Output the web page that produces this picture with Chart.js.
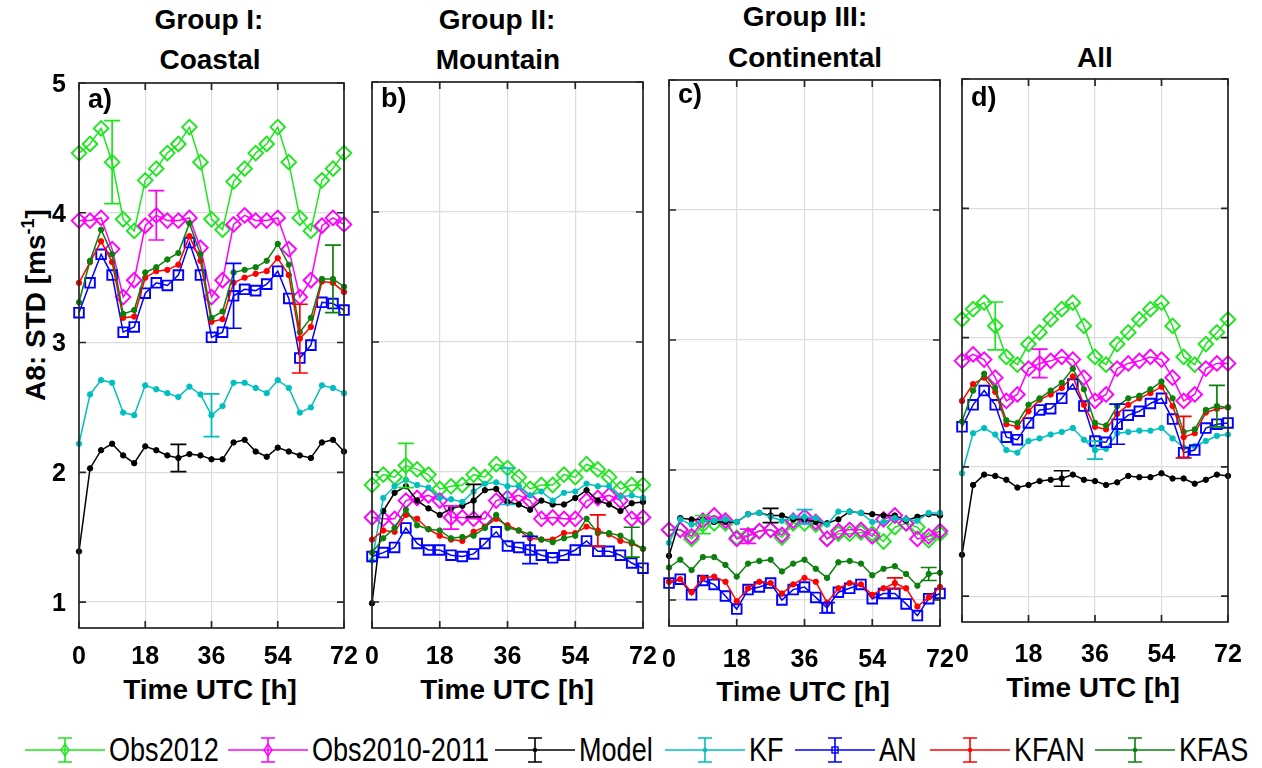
<!DOCTYPE html>
<html>
<head>
<meta charset="utf-8">
<title>A8: STD</title>
<script src="https://cdn.jsdelivr.net/npm/chart.js@4.4.1/dist/chart.umd.min.js"></script>
<style>
  body { margin: 0; background: #fff; }
  #fig { position: relative; width: 1262px; height: 768px; overflow: hidden; font-family: "Liberation Sans", Arial, sans-serif; color: #000; }
  #fig canvas { position: absolute; }
  .lbl { position: absolute; transform: translate(-50%, -50%); white-space: nowrap; font-weight: bold; font-size: 28px; }
  .ylab { position: absolute; left: 35px; top: 305px; transform: translate(-50%, -50%) rotate(-90deg); white-space: nowrap; font-weight: bold; font-size: 28px; }
  .ylab sup { font-size: 18px; }
  .leg { position: absolute; top: 735px; height: 30px; display: flex; align-items: center; white-space: nowrap; }
  .leg svg { margin-right: 3px; flex: none; }
  .leg span { display: inline-block; font-size: 33px; line-height: 30px; transform: scaleX(0.82); transform-origin: left center; }
</style>
</head>
<body>
<div id="fig">
  <div class="lbl" style="left:209px;top:20px">Group I:</div>
  <div class="lbl" style="left:210px;top:60px">Coastal</div>
  <div class="lbl" style="left:497px;top:20px">Group II:</div>
  <div class="lbl" style="left:498px;top:60px">Mountain</div>
  <div class="lbl" style="left:805px;top:17px">Group III:</div>
  <div class="lbl" style="left:805px;top:58px">Continental</div>
  <div class="lbl" style="left:1095px;top:58px">All</div>

  <div class="lbl" style="left:210px;top:690px">Time UTC [h]</div>
  <div class="lbl" style="left:507px;top:690px">Time UTC [h]</div>
  <div class="lbl" style="left:803px;top:692px">Time UTC [h]</div>
  <div class="lbl" style="left:1093px;top:688px">Time UTC [h]</div>

  <div class="ylab">A8: STD [ms<sup>-1</sup>]</div>
</div>

<script>
// forecast lead time, every 3 hours
const hours = [0, 3, 6, 9, 12, 15, 18, 21, 24, 27, 30, 33, 36, 39, 42, 45, 48, 51, 54, 57, 60, 63, 66, 69, 72];
const xTicks = [0, 18, 36, 54, 72];
const yTicks = [1, 2, 3, 4, 5];
const seriesNames = ['Obs2012', 'Obs2010-2011', 'Model', 'KF', 'AN', 'KFAN', 'KFAS'];

// hour at which each series shows its error bar
const errHours = [9, 21, 27, 36, 42, 60, 69];

// Group I: Coastal
const obs2012A = [4.46, 4.53, 4.65, 4.39, 3.95, 3.86, 4.25, 4.34, 4.46, 4.53, 4.66, 4.39, 3.95, 3.87, 4.24, 4.34, 4.46, 4.53, 4.66, 4.39, 3.96, 3.86, 4.25, 4.34, 4.46];
const obs1011A = [3.94, 3.94, 3.96, 3.72, 3.35, 3.48, 3.90, 3.98, 3.94, 3.94, 3.96, 3.73, 3.35, 3.48, 3.91, 3.98, 3.94, 3.94, 3.96, 3.72, 3.35, 3.48, 3.90, 3.96, 3.91];
const modelA = [1.39, 2.03, 2.17, 2.22, 2.13, 2.07, 2.20, 2.17, 2.13, 2.11, 2.14, 2.13, 2.10, 2.10, 2.23, 2.25, 2.16, 2.12, 2.19, 2.16, 2.13, 2.11, 2.23, 2.25, 2.16];
const kfA = [2.22, 2.60, 2.71, 2.69, 2.46, 2.44, 2.67, 2.64, 2.61, 2.58, 2.66, 2.60, 2.44, 2.51, 2.69, 2.69, 2.65, 2.61, 2.71, 2.65, 2.46, 2.50, 2.67, 2.65, 2.61];
const anA = [3.23, 3.46, 3.68, 3.52, 3.08, 3.12, 3.38, 3.46, 3.44, 3.52, 3.77, 3.52, 3.04, 3.08, 3.36, 3.41, 3.40, 3.45, 3.55, 3.34, 2.88, 2.98, 3.31, 3.30, 3.25];
const kfanA = [3.46, 3.62, 3.78, 3.62, 3.19, 3.20, 3.50, 3.55, 3.56, 3.60, 3.82, 3.63, 3.16, 3.18, 3.46, 3.50, 3.53, 3.55, 3.65, 3.52, 3.03, 3.12, 3.47, 3.46, 3.39];
const kfasA = [3.31, 3.63, 3.87, 3.68, 3.22, 3.25, 3.54, 3.58, 3.64, 3.69, 3.92, 3.68, 3.19, 3.24, 3.54, 3.56, 3.58, 3.63, 3.76, 3.60, 3.08, 3.19, 3.49, 3.49, 3.43];
const errA = [0.32, 0.19, 0.105, 0.165, 0.25, 0.265, 0.26];

// Group II: Mountain
const obs2012B = [1.90, 1.98, 1.96, 2.05, 2.02, 1.98, 1.87, 1.89, 1.90, 1.98, 1.96, 2.06, 2.03, 1.96, 1.87, 1.90, 1.90, 1.98, 1.96, 2.06, 2.02, 1.96, 1.87, 1.90, 1.90];
const obs1011B = [1.65, 1.64, 1.64, 1.78, 1.80, 1.82, 1.78, 1.65, 1.65, 1.64, 1.64, 1.78, 1.80, 1.82, 1.78, 1.64, 1.65, 1.64, 1.64, 1.78, 1.80, 1.82, 1.78, 1.64, 1.65];
const modelB = [0.99, 1.70, 1.84, 1.89, 1.78, 1.72, 1.67, 1.72, 1.74, 1.78, 1.86, 1.87, 1.77, 1.75, 1.71, 1.78, 1.75, 1.75, 1.80, 1.86, 1.78, 1.75, 1.70, 1.76, 1.77];
const kfB = [1.32, 1.80, 1.89, 1.94, 1.90, 1.88, 1.80, 1.79, 1.77, 1.85, 1.91, 1.92, 1.89, 1.89, 1.82, 1.85, 1.78, 1.84, 1.85, 1.91, 1.89, 1.89, 1.81, 1.82, 1.80];
const anB = [1.35, 1.38, 1.42, 1.57, 1.45, 1.40, 1.40, 1.36, 1.35, 1.37, 1.45, 1.54, 1.43, 1.42, 1.40, 1.36, 1.34, 1.36, 1.40, 1.47, 1.39, 1.39, 1.36, 1.30, 1.26];
const kfanB = [1.48, 1.55, 1.54, 1.67, 1.64, 1.56, 1.51, 1.48, 1.47, 1.54, 1.58, 1.64, 1.59, 1.55, 1.49, 1.48, 1.48, 1.53, 1.53, 1.58, 1.55, 1.52, 1.47, 1.45, 1.41];
const kfasB = [1.38, 1.49, 1.57, 1.71, 1.59, 1.56, 1.55, 1.49, 1.50, 1.51, 1.57, 1.67, 1.57, 1.55, 1.52, 1.48, 1.46, 1.49, 1.51, 1.64, 1.53, 1.53, 1.51, 1.46, 1.41];
const errB = [0.17, 0.09, 0.125, 0.14, 0.105, 0.12, 0.115];

// Group III: Continental
const obs2012C = [1.54, 1.54, 1.47, 1.58, 1.59, 1.59, 1.48, 1.50, 1.53, 1.54, 1.48, 1.59, 1.59, 1.58, 1.47, 1.51, 1.51, 1.52, 1.51, 1.45, 1.56, 1.59, 1.56, 1.46, 1.51];
const obs1011C = [1.54, 1.54, 1.49, 1.61, 1.65, 1.61, 1.47, 1.49, 1.53, 1.54, 1.50, 1.61, 1.64, 1.60, 1.47, 1.53, 1.54, 1.54, 1.49, 1.62, 1.65, 1.59, 1.47, 1.49, 1.53];
const modelC = [1.34, 1.63, 1.62, 1.62, 1.60, 1.60, 1.60, 1.66, 1.67, 1.65, 1.65, 1.62, 1.62, 1.60, 1.59, 1.62, 1.68, 1.67, 1.66, 1.65, 1.65, 1.61, 1.64, 1.66, 1.65];
const kfC = [1.44, 1.62, 1.58, 1.61, 1.61, 1.62, 1.60, 1.66, 1.67, 1.64, 1.61, 1.64, 1.64, 1.63, 1.58, 1.68, 1.68, 1.67, 1.60, 1.60, 1.63, 1.62, 1.61, 1.67, 1.67];
const anC = [1.13, 1.16, 1.04, 1.15, 1.12, 1.03, 0.93, 1.08, 1.10, 1.13, 1.00, 1.08, 1.10, 1.02, 0.94, 1.06, 1.09, 1.12, 1.01, 1.05, 1.05, 0.97, 0.88, 1.01, 1.05];
const kfanC = [1.14, 1.16, 1.06, 1.17, 1.18, 1.14, 0.99, 1.09, 1.14, 1.13, 1.05, 1.12, 1.17, 1.14, 0.98, 1.09, 1.13, 1.12, 1.04, 1.09, 1.13, 1.09, 0.95, 1.02, 1.10];
const kfasC = [1.25, 1.31, 1.23, 1.33, 1.33, 1.27, 1.18, 1.28, 1.30, 1.31, 1.22, 1.28, 1.31, 1.24, 1.17, 1.29, 1.30, 1.28, 1.19, 1.24, 1.26, 1.20, 1.11, 1.20, 1.21];
const errC = [0.07, 0.055, 0.055, 0.055, 0.04, 0.04, 0.05];

// All stations
const obs2012D = [3.14, 3.22, 3.27, 3.09, 2.85, 2.79, 2.95, 3.04, 3.14, 3.22, 3.27, 3.09, 2.85, 2.79, 2.95, 3.04, 3.14, 3.22, 3.27, 3.09, 2.85, 2.79, 2.95, 3.04, 3.14];
const obs1011D = [2.82, 2.87, 2.83, 2.69, 2.51, 2.56, 2.76, 2.80, 2.82, 2.85, 2.83, 2.69, 2.51, 2.56, 2.76, 2.80, 2.82, 2.85, 2.83, 2.69, 2.51, 2.56, 2.76, 2.80, 2.80];
const modelD = [1.32, 1.86, 1.94, 1.93, 1.90, 1.84, 1.86, 1.89, 1.90, 1.91, 1.94, 1.90, 1.89, 1.86, 1.88, 1.93, 1.92, 1.92, 1.95, 1.91, 1.91, 1.87, 1.90, 1.94, 1.93];
const kfD = [1.95, 2.26, 2.30, 2.25, 2.13, 2.11, 2.20, 2.22, 2.25, 2.27, 2.30, 2.21, 2.13, 2.14, 2.26, 2.27, 2.28, 2.28, 2.30, 2.22, 2.15, 2.16, 2.20, 2.24, 2.25];
const anD = [2.31, 2.48, 2.59, 2.48, 2.23, 2.21, 2.34, 2.44, 2.45, 2.53, 2.64, 2.47, 2.20, 2.19, 2.33, 2.40, 2.43, 2.49, 2.53, 2.37, 2.11, 2.13, 2.30, 2.33, 2.34];
const kfanD = [2.51, 2.64, 2.69, 2.58, 2.33, 2.31, 2.43, 2.52, 2.56, 2.61, 2.70, 2.48, 2.31, 2.29, 2.41, 2.48, 2.53, 2.57, 2.62, 2.47, 2.23, 2.26, 2.42, 2.45, 2.46];
const kfasD = [2.35, 2.59, 2.72, 2.61, 2.36, 2.34, 2.48, 2.53, 2.59, 2.65, 2.76, 2.60, 2.34, 2.32, 2.47, 2.53, 2.55, 2.60, 2.66, 2.53, 2.27, 2.29, 2.44, 2.47, 2.46];
const errD = [0.185, 0.11, 0.06, 0.07, 0.155, 0.16, 0.16];

// line/marker look, same order as seriesNames
const styles = [
    { color: '#1ee61e', point: 'rectRot', radius: 7.3, hollow: true },
    { color: '#ff00ff', point: 'rectRot', radius: 7.3, hollow: true },
    { color: '#000000', point: 'circle', radius: 2.7, hollow: false },
    { color: '#00bfbf', point: 'circle', radius: 2.7, hollow: false },
    { color: '#0000ff', point: 'rect', radius: 6.8, hollow: true },
    { color: '#ff0000', point: 'circle', radius: 2.7, hollow: false },
    { color: '#0b800b', point: 'circle', radius: 2.7, hollow: false }
];

const AXIS_COLOR = '#262626';
const FONT = '"Liberation Sans", Arial, sans-serif';

// frame, inward ticks, tick labels, panel letter and error bars
const panelDecor = {
    id: 'panelDecor',
    afterDatasetsDraw(chart, args, opts) {
        const { ctx, scales: { x, y } } = chart;
        ctx.save();
        ctx.lineWidth = 1.7;
        chart.data.datasets.forEach((ds, i) => {
            const h = errHours[i];
            const c = ds.data[hours.indexOf(h)].y;
            const e = opts.errors[i];
            const px = x.getPixelForValue(h);
            const top = y.getPixelForValue(c + e);
            const bot = y.getPixelForValue(c - e);
            ctx.strokeStyle = ds.borderColor;
            ctx.beginPath();
            ctx.moveTo(px, top); ctx.lineTo(px, bot);
            ctx.moveTo(px - 8, top); ctx.lineTo(px + 8, top);
            ctx.moveTo(px - 8, bot); ctx.lineTo(px + 8, bot);
            ctx.stroke();
        });
        ctx.restore();
    },
    afterDraw(chart, args, opts) {
        const { ctx, chartArea: a, scales: { x, y } } = chart;
        ctx.save();
        ctx.strokeStyle = AXIS_COLOR;
        ctx.lineWidth = 1.7;
        ctx.strokeRect(a.left, a.top, a.right - a.left, a.bottom - a.top);

        const tl = 7;
        ctx.beginPath();
        xTicks.forEach(v => {
            const px = x.getPixelForValue(v);
            ctx.moveTo(px, a.bottom); ctx.lineTo(px, a.bottom - tl);
            ctx.moveTo(px, a.top); ctx.lineTo(px, a.top + tl);
        });
        yTicks.forEach(v => {
            const py = y.getPixelForValue(v);
            ctx.moveTo(a.left, py); ctx.lineTo(a.left + tl, py);
            ctx.moveTo(a.right, py); ctx.lineTo(a.right - tl, py);
        });
        ctx.stroke();

        ctx.fillStyle = '#000';
        ctx.font = 'bold 25px ' + FONT;
        ctx.textAlign = 'center';
        ctx.textBaseline = 'middle';
        xTicks.forEach(v => ctx.fillText(String(v), x.getPixelForValue(v), a.bottom + opts.xLabelGap));
        if (opts.yLabels) {
            ctx.textAlign = 'right';
            yTicks.forEach(v => ctx.fillText(String(v), a.left - 13, y.getPixelForValue(v) + 2));
        }

        ctx.font = 'bold 27px ' + FONT;
        ctx.textAlign = 'left';
        ctx.fillText(opts.letter, a.left + 9, a.top + opts.letterGap);
        ctx.restore();
    }
};

function makeDatasets(values) {
    return values.map((v, i) => {
        const s = styles[i];
        return {
            label: seriesNames[i],
            data: hours.map((h, k) => ({ x: h, y: v[k] })),
            borderColor: s.color,
            backgroundColor: s.color,
            borderWidth: 1.5,
            pointStyle: s.point,
            pointRadius: s.radius,
            pointBorderColor: s.color,
            pointBackgroundColor: s.hollow ? 'rgba(0,0,0,0)' : s.color,
            pointBorderWidth: s.hollow ? 1.9 : 1,
            tension: 0,
            clip: false,
            order: seriesNames.length - i
        };
    });
}

function tickList(list) {
    return scale => { scale.ticks = list.map(v => ({ value: v })); };
}

// plot boxes in page pixels: left, top, right, bottom
const panels = [
    { letter: 'a)', box: [79, 83, 344, 628], padL: 75, yLabels: true, xLabelGap: 29, letterGap: 18, values: [obs2012A, obs1011A, modelA, kfA, anA, kfanA, kfasA], errors: errA },
    { letter: 'b)', box: [372, 82, 643, 628], padL: 28, yLabels: false, xLabelGap: 29, letterGap: 18, values: [obs2012B, obs1011B, modelB, kfB, anB, kfanB, kfasB], errors: errB },
    { letter: 'c)', box: [669, 80, 940, 626], padL: 28, yLabels: false, xLabelGap: 34, letterGap: 16, values: [obs2012C, obs1011C, modelC, kfC, anC, kfanC, kfasC], errors: errC },
    { letter: 'd)', box: [962, 79, 1228, 622], padL: 28, yLabels: false, xLabelGap: 33, letterGap: 20, values: [obs2012D, obs1011D, modelD, kfD, anD, kfanD, kfasD], errors: errD }
];

const fig = document.getElementById('fig');
const padT = 20, padR = 28, padB = 50;

panels.forEach(p => {
    const [l, t, r, b] = p.box;
    const cv = document.createElement('canvas');
    cv.width = r - l + p.padL + padR;
    cv.height = b - t + padT + padB;
    cv.style.left = (l - p.padL) + 'px';
    cv.style.top = (t - padT) + 'px';
    fig.appendChild(cv);

    const gridOpts = { color: '#dcdcdc', lineWidth: 1.2, drawTicks: false };
    new Chart(cv.getContext('2d'), {
        type: 'line',
        data: { datasets: makeDatasets(p.values) },
        options: {
            responsive: false,
            animation: false,
            devicePixelRatio: 1,
            events: [],
            layout: { padding: { left: p.padL, right: padR, top: padT, bottom: padB }, autoPadding: false },
            plugins: {
                legend: { display: false },
                tooltip: { enabled: false },
                panelDecor: { letter: p.letter, errors: p.errors, yLabels: p.yLabels, xLabelGap: p.xLabelGap, letterGap: p.letterGap }
            },
            scales: {
                x: { type: 'linear', min: 0, max: 72, afterBuildTicks: tickList(xTicks), ticks: { display: false }, grid: gridOpts, border: { display: false } },
                y: { type: 'linear', min: 0.8, max: 5, afterBuildTicks: tickList(yTicks), ticks: { display: false }, grid: gridOpts, border: { display: false } }
            }
        },
        plugins: [panelDecor]
    });
});

// legend row: line, marker and error bar glyph before each name
const legendX = [25, 228, 495, 665, 795, 930, 1095];
const SVG_NS = 'http://www.w3.org/2000/svg';

function svgEl(tag, attrs) {
    const el = document.createElementNS(SVG_NS, tag);
    Object.keys(attrs).forEach(k => el.setAttribute(k, attrs[k]));
    return el;
}

seriesNames.forEach((name, i) => {
    const s = styles[i];
    const item = document.createElement('div');
    item.className = 'leg';
    item.style.left = legendX[i] + 'px';
    const svg = svgEl('svg', { width: 81, height: 30 });
    const c = s.color;
    svg.appendChild(svgEl('line', { x1: 0, y1: 15, x2: 80, y2: 15, stroke: c, 'stroke-width': 1.6 }));
    svg.appendChild(svgEl('path', { d: 'M40 3V27M33 3H47M33 27H47', stroke: c, 'stroke-width': 1.6, fill: 'none' }));
    if (s.point === 'rectRot') {
        svg.appendChild(svgEl('path', { d: 'M36 15L40 9L44 15L40 21Z', stroke: c, 'stroke-width': 1.4, fill: 'none' }));
    } else if (s.point === 'rect') {
        svg.appendChild(svgEl('rect', { x: 37, y: 12, width: 6, height: 6, stroke: c, 'stroke-width': 1.4, fill: 'none' }));
    } else {
        svg.appendChild(svgEl('circle', { cx: 40, cy: 15, r: 2.2, fill: c }));
    }
    item.appendChild(svg);
    const txt = document.createElement('span');
    txt.textContent = name;
    item.appendChild(txt);
    fig.appendChild(item);
});
</script>
</body>
</html>
